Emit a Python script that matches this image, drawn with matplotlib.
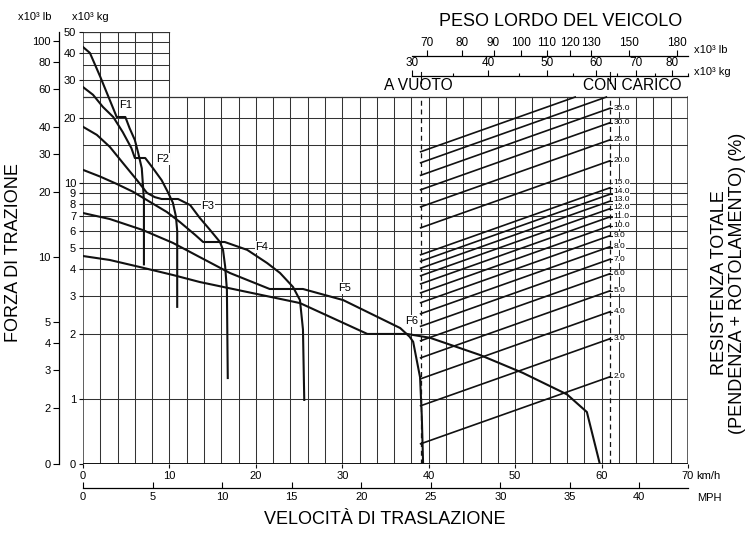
"""Rimpull / grade resistance chart (forza di trazione vs velocità)."""

import matplotlib
matplotlib.use("Agg")
import matplotlib.pyplot as plt
from matplotlib.ticker import NullLocator

plt.rcParams["font.family"] = ["Liberation Sans", "DejaVu Sans"]

# rimpull per gear: speed (km/h) vs force (x10^3 kg)
F1_KMH = [0, 0.8, 2.0, 3.1, 3.9, 4.9, 5.4, 6.0, 6.4, 6.8, 6.95, 7.05, 7.05]
F1_KG = [42.6, 40.0, 31.0, 24.2, 20.2, 20.2, 17.9, 15.8, 13.7, 11.7, 9.6, 8.3, 4.2]
F2_KMH = [0, 1.16, 2.3, 3.5, 4.6, 5.6, 6.0, 7.2, 8.1, 9.1, 9.8, 10.4, 10.75, 10.9, 10.9]
F2_KG = [27.8, 25.6, 22.5, 20.2, 17.2, 14.5, 13.05, 13.05, 11.7, 10.3, 9.1, 8.1, 7.0, 6.0, 2.67]
F3_KMH = [0, 1.6, 3.1, 4.6, 6.25, 7.4, 8.3, 9.1, 11.0, 12.4, 13.5, 14.7, 15.85, 16.2, 16.45, 16.65, 16.75]
F3_KG = [18.2, 16.7, 14.7, 12.4, 10.3, 9.0, 8.6, 8.43, 8.43, 7.9, 6.9, 6.06, 5.33, 4.9, 4.1, 3.2, 1.25]
F4_KMH = [0, 2.0, 3.9, 5.8, 7.75, 9.7, 11.2, 13.0, 13.9, 16.4, 19.0, 21.3, 22.8, 24.3, 25.1, 25.45, 25.6]
F4_KG = [11.5, 10.7, 9.9, 9.1, 8.17, 7.34, 6.6, 5.74, 5.33, 5.33, 4.9, 4.26, 3.83, 3.3, 2.87, 2.1, 0.99]
F5_KMH = [0, 3.1, 6.9, 10.4, 13.5, 17.0, 21.6, 25.45, 30.1, 36.7, 37.8, 38.2, 39.0, 39.2, 39.35]
F5_KG = [7.26, 6.81, 6.06, 5.28, 4.54, 3.83, 3.23, 3.23, 2.87, 2.13, 1.94, 1.84, 1.26, 0.83, 0.5]
F6_KMH = [0, 3.1, 6.6, 10.4, 13.5, 25.1, 32.9, 37.5, 40.15, 45.9, 50.9, 56.0, 58.3, 59.8]
F6_KG = [4.59, 4.40, 4.08, 3.75, 3.48, 2.78, 2.0, 2.0, 1.92, 1.60, 1.32, 1.05, 0.87, 0.5]
GEAR_NAMES = ["F1", "F2", "F3", "F4", "F5", "F6"]
GEAR_LABEL_KMH = [4.98, 9.26, 14.46, 20.7, 30.3, 38.07]
GEAR_LABEL_KG = [22.9, 12.9, 7.83, 5.05, 3.26, 2.3]

# total resistance lines (%), gross vehicle weight x10^3 kg
GRADES = [2, 3, 4, 5, 6, 7, 8, 9, 10, 11, 12, 13, 14, 15, 20, 25, 30, 35, 40, 45]
GVW_EMPTY = 31.0
GVW_LOADED = 63.4
# label nudges (px, upward) where the printed labels were spread apart
GRADE_NUDGE = {15: 5, 14: 3, 13: 2, 12: 1.3}

# axis ticks
KG_TICKS = [1, 2, 3, 4, 5, 6, 7, 8, 9, 10, 20, 30, 40, 50]
LB_TICKS = [2, 3, 4, 5, 10, 20, 30, 40, 60, 80, 100]
KMH_TICKS = [0, 10, 20, 30, 40, 50, 60, 70]
MPH_TICKS = [0, 5, 10, 15, 20, 25, 30, 35, 40]
GVW_LB_TICKS = [70, 80, 90, 100, 110, 120, 130, 150, 180]
GVW_KG_TICKS = [30, 40, 50, 60, 70, 80]
GVW_KG_MINOR = [35, 45, 55, 65, 75, 85]
GRID_KG = [1, 2, 3, 4, 5, 6, 7, 8, 9, 10, 15, 20]
GRID_KG_UPPER = [30, 35, 40, 45]

LB_PER_KG = 1 / 0.45359237
KMH_PER_MPH = 1.609344
Y_MIN, Y_BOX, Y_MAX = 0.5, 25, 50
X_MAX, X_UPPER = 70, 10
GVW_LEFT, GVW_RIGHT = 8.667, 85.05   # log scale placing 30 t at 412 px

W, H = 754, 545
GRID_C = "#333333"
INK = "#111111"


def px_rect(x0, y0, x1, y1):
    return [x0 / W, 1 - y1 / H, (x1 - x0) / W, (y1 - y0) / H]


fig = plt.figure(figsize=(W / 100, H / 100), dpi=100)
fig.patch.set_facecolor("white")

ax = fig.add_axes(px_rect(83, 32, 688, 464))
ax.set_yscale("log")
ax.set_xlim(0, X_MAX)
ax.set_ylim(Y_MIN, Y_MAX)
for s in ax.spines.values():
    s.set_visible(False)
ax.patch.set_visible(False)

# grid
for v in range(0, X_MAX + 1, 2):
    top = Y_MAX if v <= X_UPPER else Y_BOX
    lw = 1.1 if v in (0, X_MAX) else 0.75
    ax.plot([v, v], [Y_MIN, top], color=GRID_C, lw=lw, zorder=1)
for g in GRID_KG:
    ax.plot([0, X_MAX], [g, g], color=GRID_C, lw=0.75, zorder=1)
for g in GRID_KG_UPPER:
    ax.plot([0, X_UPPER], [g, g], color=GRID_C, lw=0.75, zorder=1)
ax.plot([0, X_MAX], [Y_BOX, Y_BOX], color=GRID_C, lw=0.9, zorder=1)
ax.plot([0, X_UPPER], [Y_MAX, Y_MAX], color=GRID_C, lw=0.9, zorder=1)
ax.plot([0, X_MAX], [Y_MIN, Y_MIN], color=INK, lw=1.4, zorder=1)

ax.set_yticks([Y_MIN] + KG_TICKS)
ax.set_yticklabels(["0"] + [str(t) for t in KG_TICKS])
ax.yaxis.set_minor_locator(NullLocator())
ax.set_xticks(KMH_TICKS)
ax.set_xticklabels([str(t) for t in KMH_TICKS])
ax.tick_params(axis="both", length=3, width=0.8, pad=2, labelsize=8, color=INK)

# gear curves
curves = [(F1_KMH, F1_KG), (F2_KMH, F2_KG), (F3_KMH, F3_KG),
          (F4_KMH, F4_KG), (F5_KMH, F5_KG), (F6_KMH, F6_KG)]
for xs, ys in curves:
    ax.plot(xs, ys, color=INK, lw=1.5, zorder=4, solid_joinstyle="round")
for name, lx, ly in zip(GEAR_NAMES, GEAR_LABEL_KMH, GEAR_LABEL_KG):
    ax.text(lx, ly, name, fontsize=8, ha="center", va="center", zorder=5,
            bbox=dict(facecolor="white", edgecolor="none", pad=0.6))

# grade lines on gross weight scale
axg = fig.add_axes(px_rect(83, 32, 688, 464))
axg.set_xscale("log")
axg.set_yscale("log")
axg.set_xlim(GVW_LEFT, GVW_RIGHT)
axg.set_ylim(Y_MIN, Y_MAX)
axg.axis("off")
for gvw in (GVW_EMPTY, GVW_LOADED):
    axg.plot([gvw, gvw], [Y_MIN, Y_BOX], color=INK, lw=0.9, ls=(0, (4, 3)), zorder=3)
for r in GRADES:
    g_end = min(GVW_LOADED, Y_BOX / (r / 100))
    axg.plot([GVW_EMPTY, g_end], [r / 100 * GVW_EMPTY, r / 100 * g_end],
             color=INK, lw=1.2, zorder=3)
    if g_end == GVW_LOADED:
        yr = r / 100 * GVW_LOADED
        axg.plot([GVW_LOADED * 0.99, GVW_LOADED * 1.012], [yr, yr], color=INK, lw=0.8)
        axg.annotate(f"{r:.1f}", (GVW_LOADED * 1.013, yr),
                     xytext=(0, GRADE_NUDGE.get(r, 0) * 0.72), textcoords="offset points",
                     fontsize=6, ha="left", va="center", zorder=5,
                     bbox=dict(facecolor="white", edgecolor="none", pad=0.1))
ytr = axg.get_xaxis_transform()
for gvw in (GVW_EMPTY, GVW_LOADED):
    axg.plot([gvw, gvw], [(464 - 72) / 432, (464 - 83) / 432], color=INK, lw=0.8,
             transform=ytr, clip_on=False)

# left lb axis
axl = fig.add_axes(px_rect(59, 32, 60, 464))
axl.set_yscale("log")
axl.set_ylim(Y_MIN * LB_PER_KG, Y_MAX * LB_PER_KG)
for k, s in axl.spines.items():
    s.set_visible(k == "left")
axl.spines["left"].set_linewidth(0.9)
axl.set_xticks([])
axl.patch.set_visible(False)
axl.set_yticks([Y_MIN * LB_PER_KG] + LB_TICKS)
axl.set_yticklabels(["0"] + [str(t) for t in LB_TICKS])
axl.yaxis.set_minor_locator(NullLocator())
axl.tick_params(axis="y", length=4, width=0.8, pad=2, labelsize=8)

# mph axis
axm = fig.add_axes(px_rect(83, 487, 688, 488))
axm.set_xlim(0, X_MAX / KMH_PER_MPH)
for k, s in axm.spines.items():
    s.set_visible(k == "bottom")
axm.spines["bottom"].set_linewidth(0.9)
axm.set_yticks([])
axm.patch.set_visible(False)
axm.set_xticks(MPH_TICKS)
axm.set_xticklabels([str(t) for t in MPH_TICKS])
axm.tick_params(axis="x", direction="in", length=4, width=0.8, pad=3, labelsize=8)

# gross vehicle weight axes (top)
axw_lb = fig.add_axes(px_rect(83, 56, 688, 57))
axw_kg = fig.add_axes(px_rect(83, 76, 688, 77))
for a, conv, major, minor in ((axw_lb, LB_PER_KG, GVW_LB_TICKS, []),
                              (axw_kg, 1.0, GVW_KG_TICKS, GVW_KG_MINOR)):
    a.set_xscale("log")
    a.set_xlim(GVW_LEFT * conv, GVW_RIGHT * conv)
    for k, s in a.spines.items():
        s.set_visible(k == "top")
    a.spines["top"].set_bounds(30 * conv, GVW_RIGHT * conv)
    a.spines["top"].set_linewidth(0.9)
    a.set_yticks([])
    a.patch.set_visible(False)
    a.xaxis.set_ticks_position("top")
    a.set_xticks(major)
    a.set_xticklabels([str(t) for t in major])
    a.set_xticks(minor, minor=True)
    a.xaxis.set_minor_formatter(plt.NullFormatter())
    a.tick_params(axis="x", which="major", length=4, width=0.8, pad=1, labelsize=8.5)
    a.tick_params(axis="x", which="minor", length=2.5, width=0.8)

# texts
fig.text(35 / W, 1 - 17 / H, "x10³ lb", fontsize=8, ha="center", va="center")
fig.text(90 / W, 1 - 17 / H, "x10³ kg", fontsize=8, ha="center", va="center")
fig.text(561 / W, 1 - 22 / H, "PESO LORDO DEL VEICOLO", fontsize=13, ha="center", va="center")
fig.text(694 / W, 1 - 50 / H, "x10³ lb", fontsize=8, ha="left", va="center")
fig.text(694 / W, 1 - 72 / H, "x10³ kg", fontsize=8, ha="left", va="center")
fig.text(418 / W, 1 - 86 / H, "A VUOTO", fontsize=11.2, ha="center", va="center")
fig.text(632 / W, 1 - 86 / H, "CON CARICO", fontsize=11.2, ha="center", va="center")
fig.text(696 / W, 1 - 476 / H, "km/h", fontsize=8, ha="left", va="center")
fig.text(697 / W, 1 - 498 / H, "MPH", fontsize=8, ha="left", va="center")
fig.text(385 / W, 1 - 520 / H, "VELOCITÀ DI TRASLAZIONE", fontsize=13, ha="center", va="center")
fig.text(14 / W, 1 - 253 / H, "FORZA DI TRAZIONE", fontsize=13, rotation=90,
         ha="center", va="center")
fig.text(720 / W, 1 - 283 / H, "RESISTENZA TOTALE", fontsize=13, rotation=90,
         ha="center", va="center")
fig.text(738 / W, 1 - 283 / H, "(PENDENZA + ROTOLAMENTO) (%)", fontsize=13, rotation=90,
         ha="center", va="center")

fig.savefig("out.png", dpi=100)
